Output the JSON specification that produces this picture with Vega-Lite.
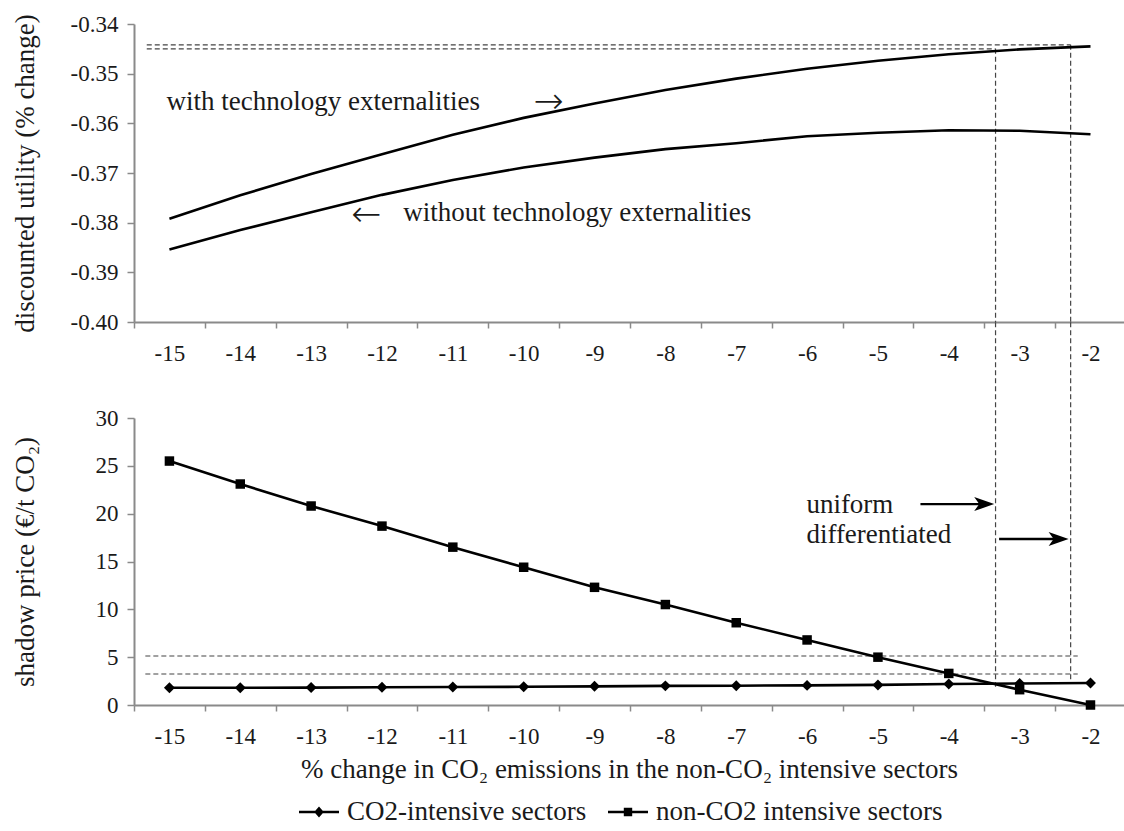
{
  "$schema": "https://vega.github.io/schema/vega-lite/v6.json",
  "padding": {"left": 10, "top": 13, "right": 0, "bottom": 0},
  "bounds": "flush",
  "spacing": 96,
  "config": {
    "view": {"stroke": null},
    "font": "Liberation Serif",
    "axis": {
      "grid": false,
      "domainColor": "#8a8a8a",
      "domainWidth": 2,
      "tickColor": "#8a8a8a",
      "tickWidth": 1.5,
      "labelFont": "Liberation Serif",
      "labelFontSize": 23,
      "labelColor": "#1a1a1a",
      "labelExpr": "replace(datum.label, '−', '-')",
      "titleFont": "Liberation Serif",
      "titleFontSize": 27,
      "titleFontWeight": "normal",
      "titleColor": "#1a1a1a"
    },
    "legend": {"labelFont": "Liberation Serif", "labelFontSize": 27, "labelColor": "#1a1a1a"},
    "text": {"font": "Liberation Serif", "color": "#1a1a1a"}
  },
  "datasets": {
    "util": [
      {"x": -15, "series": "with", "value": -0.3792},
      {"x": -14, "series": "with", "value": -0.3745},
      {"x": -13, "series": "with", "value": -0.3702},
      {"x": -12, "series": "with", "value": -0.3662},
      {"x": -11, "series": "with", "value": -0.3623},
      {"x": -10, "series": "with", "value": -0.3589},
      {"x": -9, "series": "with", "value": -0.3560},
      {"x": -8, "series": "with", "value": -0.3533},
      {"x": -7, "series": "with", "value": -0.3510},
      {"x": -6, "series": "with", "value": -0.3490},
      {"x": -5, "series": "with", "value": -0.3474},
      {"x": -4, "series": "with", "value": -0.3461},
      {"x": -3, "series": "with", "value": -0.3451},
      {"x": -2, "series": "with", "value": -0.3445},
      {"x": -15, "series": "without", "value": -0.3854},
      {"x": -14, "series": "without", "value": -0.3815},
      {"x": -13, "series": "without", "value": -0.3779},
      {"x": -12, "series": "without", "value": -0.3744},
      {"x": -11, "series": "without", "value": -0.3714},
      {"x": -10, "series": "without", "value": -0.3689},
      {"x": -9, "series": "without", "value": -0.3669},
      {"x": -8, "series": "without", "value": -0.3652},
      {"x": -7, "series": "without", "value": -0.3640},
      {"x": -6, "series": "without", "value": -0.3626},
      {"x": -5, "series": "without", "value": -0.3619},
      {"x": -4, "series": "without", "value": -0.3614},
      {"x": -3, "series": "without", "value": -0.3615},
      {"x": -2, "series": "without", "value": -0.3622}
    ],
    "price": [
      {"x": -15, "series": "CO2-intensive sectors", "value": 1.8},
      {"x": -14, "series": "CO2-intensive sectors", "value": 1.8},
      {"x": -13, "series": "CO2-intensive sectors", "value": 1.82},
      {"x": -12, "series": "CO2-intensive sectors", "value": 1.85},
      {"x": -11, "series": "CO2-intensive sectors", "value": 1.88},
      {"x": -10, "series": "CO2-intensive sectors", "value": 1.9},
      {"x": -9, "series": "CO2-intensive sectors", "value": 1.95},
      {"x": -8, "series": "CO2-intensive sectors", "value": 2.0},
      {"x": -7, "series": "CO2-intensive sectors", "value": 2.02},
      {"x": -6, "series": "CO2-intensive sectors", "value": 2.05},
      {"x": -5, "series": "CO2-intensive sectors", "value": 2.1},
      {"x": -4, "series": "CO2-intensive sectors", "value": 2.2},
      {"x": -3, "series": "CO2-intensive sectors", "value": 2.25},
      {"x": -2, "series": "CO2-intensive sectors", "value": 2.3},
      {"x": -15, "series": "non-CO2 intensive sectors", "value": 25.5},
      {"x": -14, "series": "non-CO2 intensive sectors", "value": 23.1},
      {"x": -13, "series": "non-CO2 intensive sectors", "value": 20.8},
      {"x": -12, "series": "non-CO2 intensive sectors", "value": 18.7},
      {"x": -11, "series": "non-CO2 intensive sectors", "value": 16.5},
      {"x": -10, "series": "non-CO2 intensive sectors", "value": 14.4},
      {"x": -9, "series": "non-CO2 intensive sectors", "value": 12.3},
      {"x": -8, "series": "non-CO2 intensive sectors", "value": 10.5},
      {"x": -7, "series": "non-CO2 intensive sectors", "value": 8.6},
      {"x": -6, "series": "non-CO2 intensive sectors", "value": 6.8},
      {"x": -5, "series": "non-CO2 intensive sectors", "value": 5.0},
      {"x": -4, "series": "non-CO2 intensive sectors", "value": 3.3},
      {"x": -3, "series": "non-CO2 intensive sectors", "value": 1.6},
      {"x": -2, "series": "non-CO2 intensive sectors", "value": 0.0}
    ],
    "hdash_top": [
      {"x1": -15.32, "x2": -2.28, "y": -0.3442},
      {"x1": -15.32, "x2": -3.34, "y": -0.3450}
    ],
    "vdash_top": [
      {"x": -3.34, "y1": -0.3450, "y2": -0.40},
      {"x": -2.28, "y1": -0.3442, "y2": -0.40}
    ],
    "hdash_bottom": [
      {"x1": -15.34, "x2": -2.18, "y": 5.12},
      {"x1": -15.34, "x2": -2.18, "y": 3.24}
    ],
    "vdash_bottom": [
      {"x": -3.34, "y1": 40, "y2": 1.9},
      {"x": -2.28, "y1": 40, "y2": 2.3}
    ],
    "top_text": [
      {"x": -15.04, "y": -0.3557, "label": "with technology externalities"},
      {"x": -11.70, "y": -0.3780, "label": "without technology externalities"}
    ],
    "top_arrows": [
      {"x": -9.65, "y": -0.3557, "label": "→"},
      {"x": -12.22, "y": -0.3784, "label": "←"}
    ],
    "bottom_text": [
      {"x": -6.01, "y": 20.9, "label": "uniform"},
      {"x": -6.01, "y": 17.8, "label": "differentiated"}
    ],
    "shafts": [
      {"x1": -4.40, "x2": -3.5, "y": 21.0},
      {"x1": -3.29, "x2": -2.45, "y": 17.35}
    ],
    "heads": [
      {"x": -3.50, "y": 21.0},
      {"x": -2.45, "y": 17.35}
    ]
  },
  "vconcat": [
    {
      "width": 990,
      "height": 298,
      "layer": [
        {
          "data": {"name": "hdash_top"},
          "mark": {"type": "rule", "strokeDash": [5, 3], "color": "#444", "strokeWidth": 1.2},
          "encoding": {
            "x": {"field": "x1", "type": "quantitative", "scale": {"domain": [-15.5, -1.527], "nice": false, "zero": false},
              "axis": {"values": [-15, -14, -13, -12, -11, -10, -9, -8, -7, -6, -5, -4, -3, -2], "tickOffset": -35.4, "labelOffset": 35.4, "tickSize": 6, "labelPadding": 14, "title": null, "format": "d"}},
            "x2": {"field": "x2"},
            "y": {"field": "y", "type": "quantitative", "scale": {"domain": [-0.40, -0.34], "nice": false, "zero": false},
              "axis": {"values": [-0.40, -0.39, -0.38, -0.37, -0.36, -0.35, -0.34], "format": ".2f", "tickSize": 7, "labelPadding": 9,
                "title": "discounted utility (% change)", "titleX": -109, "titleBaseline": "middle", "titleAlign": "center"}}
          }
        },
        {
          "data": {"name": "vdash_top"},
          "mark": {"type": "rule", "strokeDash": [5, 3], "color": "#444", "strokeWidth": 1.2},
          "encoding": {
            "x": {"field": "x", "type": "quantitative"},
            "y": {"field": "y1", "type": "quantitative"},
            "y2": {"field": "y2"}
          }
        },
        {
          "data": {"name": "util"},
          "mark": {"type": "line", "color": "black", "strokeWidth": 2.6},
          "encoding": {
            "x": {"field": "x", "type": "quantitative"},
            "y": {"field": "value", "type": "quantitative"},
            "detail": {"field": "series"}
          }
        },
        {
          "data": {"name": "top_text"},
          "mark": {"type": "text", "align": "left", "baseline": "middle", "fontSize": 27},
          "encoding": {
            "x": {"field": "x", "type": "quantitative"},
            "y": {"field": "y", "type": "quantitative"},
            "text": {"field": "label"}
          }
        },
        {
          "data": {"name": "top_arrows"},
          "mark": {"type": "text", "align": "center", "baseline": "middle", "fontSize": 36, "font": "DejaVu Sans", "fontWeight": 200},
          "encoding": {
            "x": {"field": "x", "type": "quantitative"},
            "y": {"field": "y", "type": "quantitative"},
            "text": {"field": "label"}
          }
        }
      ]
    },
    {
      "width": 990,
      "height": 287,
      "layer": [
        {
          "data": {"name": "hdash_bottom"},
          "mark": {"type": "rule", "strokeDash": [5, 3], "color": "#444", "strokeWidth": 1.2},
          "encoding": {
            "x": {"field": "x1", "type": "quantitative", "scale": {"domain": [-15.5, -1.527], "nice": false, "zero": false},
              "axis": {"values": [-15, -14, -13, -12, -11, -10, -9, -8, -7, -6, -5, -4, -3, -2], "tickOffset": -35.4, "labelOffset": 35.4, "tickSize": 6, "labelPadding": 14, "format": "d",
                "title": "% change in CO₂ emissions in the non-CO₂ intensive sectors", "titlePadding": 8}},
            "x2": {"field": "x2"},
            "y": {"field": "y", "type": "quantitative", "scale": {"domain": [0, 30], "nice": false, "zero": false},
              "axis": {"values": [0, 5, 10, 15, 20, 25, 30], "tickSize": 7, "labelPadding": 9,
                "title": "shadow price (€/t CO₂)", "titleX": -109, "titleBaseline": "middle", "titleAlign": "center"}}
          }
        },
        {
          "data": {"name": "vdash_bottom"},
          "mark": {"type": "rule", "strokeDash": [5, 3], "color": "#444", "strokeWidth": 1.2},
          "encoding": {
            "x": {"field": "x", "type": "quantitative"},
            "y": {"field": "y1", "type": "quantitative"},
            "y2": {"field": "y2"}
          }
        },
        {
          "data": {"name": "price"},
          "mark": {"type": "line", "color": "black", "strokeWidth": 2.6},
          "encoding": {
            "x": {"field": "x", "type": "quantitative"},
            "y": {"field": "value", "type": "quantitative"},
            "detail": {"field": "series"}
          }
        },
        {
          "data": {"name": "price"},
          "transform": [{"filter": "datum.series === 'CO2-intensive sectors'"}],
          "mark": {"type": "point", "filled": true, "color": "black", "opacity": 1, "size": 120, "shape": "diamond"},
          "encoding": {
            "x": {"field": "x", "type": "quantitative"},
            "y": {"field": "value", "type": "quantitative"}
          }
        },
        {
          "data": {"name": "price"},
          "transform": [{"filter": "datum.series === 'non-CO2 intensive sectors'"}],
          "mark": {"type": "point", "filled": true, "color": "black", "opacity": 1, "size": 90, "shape": "square"},
          "encoding": {
            "x": {"field": "x", "type": "quantitative"},
            "y": {"field": "value", "type": "quantitative"}
          }
        },
        {
          "data": {"name": "price"},
          "mark": {"type": "point", "filled": true, "color": "black", "opacity": 0},
          "encoding": {
            "x": {"field": "x", "type": "quantitative"},
            "y": {"field": "value", "type": "quantitative"},
            "shape": {"field": "series", "type": "nominal",
              "scale": {"domain": ["CO2-intensive sectors", "non-CO2 intensive sectors"],
                "range": ["M-1,-0.06H1V0.06H-1ZM0,-0.27L0.24,0L0,0.27L-0.24,0Z", "M-1,-0.06H1V0.06H-1ZM-0.21,-0.21H0.21V0.21H-0.21Z"]},
              "legend": {
                "orient": "none", "legendX": 164, "legendY": 767, "direction": "horizontal", "title": null,
                "labelFont": "Liberation Serif", "labelFontSize": 27, "labelColor": "#1a1a1a", "labelLimit": 500,
                "symbolSize": 1600, "symbolFillColor": "black", "symbolOpacity": 1,
                "columnPadding": 18, "labelOffset": 7
              }}
          }
        },
        {
          "data": {"name": "bottom_text"},
          "mark": {"type": "text", "align": "left", "baseline": "middle", "fontSize": 27},
          "encoding": {
            "x": {"field": "x", "type": "quantitative"},
            "y": {"field": "y", "type": "quantitative"},
            "text": {"field": "label"}
          }
        },
        {
          "data": {"name": "shafts"},
          "mark": {"type": "rule", "color": "black", "strokeWidth": 2.4},
          "encoding": {
            "x": {"field": "x1", "type": "quantitative"},
            "x2": {"field": "x2"},
            "y": {"field": "y", "type": "quantitative"}
          }
        },
        {
          "data": {"name": "heads"},
          "mark": {"type": "point", "filled": true, "color": "black", "opacity": 1, "size": 400, "shape": "M-1,-0.7L1,0L-1,0.7L-0.5,0Z"},
          "encoding": {
            "x": {"field": "x", "type": "quantitative"},
            "y": {"field": "y", "type": "quantitative"}
          }
        }
      ]
    }
  ]
}
